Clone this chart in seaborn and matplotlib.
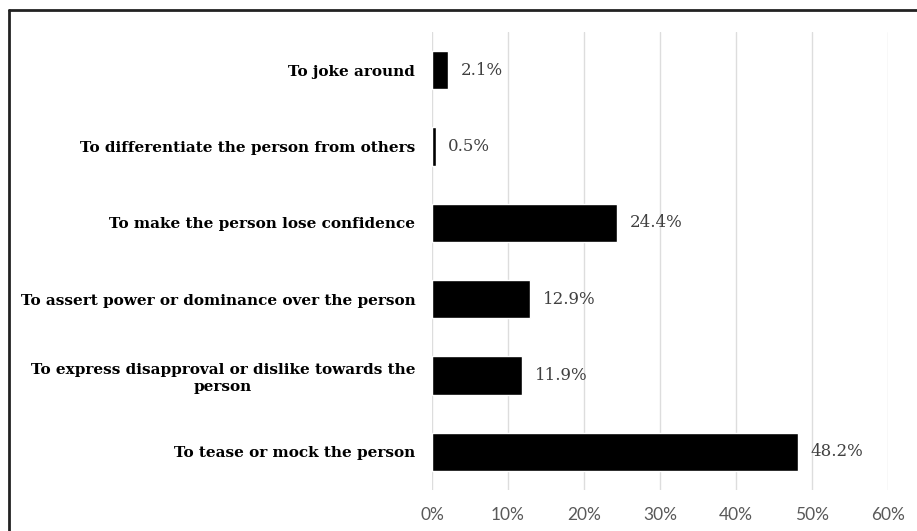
import matplotlib
matplotlib.use("Agg")
import matplotlib.pyplot as plt
from matplotlib.lines import Line2D
import seaborn as sns
import pandas as pd

# Reasons given, listed top to bottom, with share of respondents (%)
reasons = [
    "To joke around",
    "To differentiate the person from others",
    "To make the person lose confidence",
    "To assert power or dominance over the person",
    "To express disapproval or dislike towards the\nperson",
    "To tease or mock the person",
]
shares = [2.1, 0.5, 24.4, 12.9, 11.9, 48.2]
x_ticks = [0, 10, 20, 30, 40, 50, 60]
x_tick_labels = ["0%", "10%", "20%", "30%", "40%", "50%", "60%"]

df = pd.DataFrame({"reason": reasons, "share": shares})

sns.set_theme(style="white")
plt.rcParams["font.family"] = ["DejaVu Serif"]

fig = plt.figure(figsize=(9.17, 5.31), dpi=100)
ax = fig.add_axes([432 / 917, 1 - 490 / 531, (888 - 432) / 917, (490 - 32) / 531])

sns.barplot(data=df, x="share", y="reason", orient="h", color="black",
            width=0.5, saturation=1, ax=ax, zorder=3)

ax.set_xlim(0, 60)
ax.set_ylim(5.5, -0.5)
ax.set_xticks(x_ticks)
ax.set_xticklabels(x_tick_labels, family="Lato", fontsize=12.5, color="#595959")
ax.tick_params(axis="x", length=0, pad=12)
ax.tick_params(axis="y", length=0, pad=12)
for lbl in ax.get_yticklabels():
    lbl.set_fontweight("bold")
    lbl.set_fontsize(11)
    lbl.set_color("black")
    lbl.set_multialignment("center")
    lbl.set_linespacing(1.3)

ax.grid(axis="x", color="#dddddd", linewidth=1, zorder=0)
ax.grid(axis="y", visible=False)
for side in ["top", "right", "bottom", "left"]:
    ax.spines[side].set_visible(False)
ax.set_xlabel("")
ax.set_ylabel("")

for i, v in enumerate(shares):
    ax.annotate(f"{v}%", xy=(v, i), xytext=(9, 0), textcoords="offset points",
                ha="left", va="center", fontsize=12, color="#404040")

# Frame lines along the top and left edges of the figure
fig.add_artist(Line2D([9 / 917, 1.0], [1 - 10 / 531, 1 - 10 / 531],
                      transform=fig.transFigure, color="#222222", linewidth=2))
fig.add_artist(Line2D([9 / 917, 9 / 917], [0.0, 1 - 10 / 531],
                      transform=fig.transFigure, color="#222222", linewidth=2))

fig.savefig("out.png", dpi=100)
